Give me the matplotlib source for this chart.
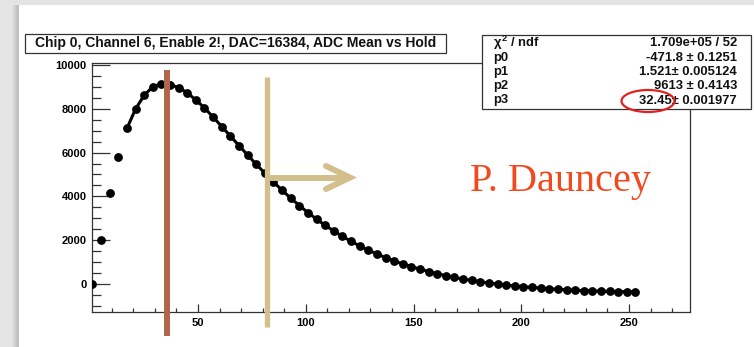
import matplotlib
matplotlib.use('Agg')
import matplotlib.pyplot as plt
from matplotlib.patches import Rectangle, Ellipse
from matplotlib.lines import Line2D
from matplotlib.ticker import MultipleLocator

W, H = 754, 347

# hold delay vs ADC mean
hold = [1, 5, 9, 13, 17, 21, 25, 29, 33, 37, 41, 45, 49, 53, 57, 61,
        65, 69, 73, 77, 81, 85, 89, 93, 97, 101, 105, 109, 113, 117, 121, 125,
        129, 133, 137, 141, 145, 149, 153, 157, 161, 165, 169, 173, 177, 181, 185, 189,
        193, 197, 201, 205, 209, 213, 217, 221, 225, 229, 233, 237, 241, 245, 249, 253]
adc = [0, 2030, 4140, 5820, 7100, 7990, 8610, 9010, 9135, 9095, 8970, 8730, 8400, 8040, 7620, 7190,
       6755, 6320, 5890, 5465, 5060, 4660, 4280, 3920, 3580, 3260, 2960, 2680, 2420, 2175, 1950, 1740,
       1545, 1370, 1205, 1055, 915, 790, 675, 565, 470, 380, 300, 228, 160, 100, 46, -5,
       -50, -90, -125, -160, -190, -218, -243, -265, -285, -303, -318, -330, -340, -348, -354, -358]
fit_start = 4  # fit curve drawn from hold=17 on

title = "Chip 0, Channel 6, Enable 2!, DAC=16384, ADC Mean vs Hold"
stat_names = [r"$\chi^{2}$ / ndf", "p0", "p1", "p2", "p3"]
stat_vals = ["1.709e+05 / 52", "-471.8 \u00b1 0.1251", "1.521\u00b1 0.005124",
             "9613 \u00b1 0.4143", "32.45\u00b1 0.001977"]

plt.rcParams['font.family'] = ['Liberation Sans', 'DejaVu Sans']
plt.rcParams['mathtext.fontset'] = 'custom'
plt.rcParams['mathtext.it'] = 'Liberation Sans:bold'
plt.rcParams['mathtext.rm'] = 'Liberation Sans:bold'


def fx(px):
    return px / W


def fy(py):
    return 1 - py / H


fig = plt.figure(figsize=(W / 100, H / 100), dpi=100)
fig.patch.set_facecolor('#e4e4e4')

# white slide area with soft shadow on the left
for i, c in enumerate(['#d6d6d6', '#cccccc', '#c4c4c4', '#bcbcbc']):
    fig.add_artist(Rectangle((fx(13 + i * 1.5), 0), fx(8), fy(5), transform=fig.transFigure,
                             facecolor=c, edgecolor='none', zorder=0))
fig.add_artist(Rectangle((fx(19), 0), 1, fy(5), transform=fig.transFigure,
                         facecolor='white', edgecolor='none', zorder=0))

ax = fig.add_axes([fx(92), fy(312), fx(690) - fx(92), fy(63) - fy(312)])
ax.set_facecolor('white')
ax.plot(hold[fit_start:], adc[fit_start:], color='black', lw=2.2, zorder=3)
ax.plot(hold, adc, 'o', color='black', ms=5.3, zorder=4)
ax.set_xlim(0.8, 278.3)
ax.set_ylim(-1280, 10090)

for s in ax.spines.values():
    s.set_color('#333333')
    s.set_linewidth(0.9)

ax.xaxis.set_major_locator(MultipleLocator(50))
ax.xaxis.set_minor_locator(MultipleLocator(10))
ax.yaxis.set_major_locator(MultipleLocator(2000))
ax.yaxis.set_minor_locator(MultipleLocator(500))
ax.tick_params(axis='y', which='major', direction='in', length=13, width=0.9, color='#333333',
               labelsize=8, pad=4)
ax.tick_params(axis='y', which='minor', direction='in', length=6.5, width=0.9, color='#333333')
ax.tick_params(axis='x', which='major', direction='in', length=5.8, width=0.9, color='#333333',
               labelsize=8, pad=4)
ax.tick_params(axis='x', which='minor', direction='in', length=3, width=0.9, color='#333333')
ax.set_xticks([50, 100, 150, 200, 250])
ax.set_yticks([0, 2000, 4000, 6000, 8000, 10000])
for lab in ax.get_xticklabels() + ax.get_yticklabels():
    lab.set_fontweight('bold')

# title box
fig.add_artist(Rectangle((fx(25), fy(53)), fx(446) - fx(25), fy(34) - fy(53), transform=fig.transFigure,
                         facecolor='white', edgecolor='#333333', lw=0.9, zorder=5))
fig.text(fx(235.5), fy(43.5), title, ha='center', va='center', fontsize=10, fontweight='bold',
         color='#111111', zorder=6)

# stats box
fig.add_artist(Rectangle((fx(482), fy(109)), fx(751) - fx(482), fy(35) - fy(109), transform=fig.transFigure,
                         facecolor='white', edgecolor='#333333', lw=0.9, zorder=5))
rows_y = [46.5, 61, 75, 89, 103.5]
for name, val, yy in zip(stat_names, stat_vals, rows_y):
    fig.text(fx(493), fy(yy), name, ha='left', va='baseline', fontsize=9.4, fontweight='bold',
             color='#111111', zorder=6)
    fig.text(fx(737), fy(yy), val, ha='right', va='baseline', fontsize=9.4, fontweight='bold',
             color='#111111', zorder=6)
fig.add_artist(Ellipse((fx(648), fy(101)), fx(53), fy(0) - fy(22), transform=fig.transFigure,
                       facecolor='none', edgecolor='#e02222', lw=1.6, zorder=7))

# annotations: vertical markers and arrow
fig.add_artist(Line2D([fx(167), fx(167)], [fy(70), fy(336)], transform=fig.transFigure,
                      color='#b2654a', lw=4.3, zorder=8, solid_capstyle='butt'))
tan = '#d3bf8c'
fig.add_artist(Line2D([fx(267), fx(267)], [fy(77), fy(327)], transform=fig.transFigure,
                      color=tan, lw=3.8, zorder=8, solid_capstyle='butt'))
fig.add_artist(Line2D([fx(271), fx(349)], [fy(177.5), fy(177.5)], transform=fig.transFigure,
                      color=tan, lw=4.3, zorder=8, solid_capstyle='round'))
fig.add_artist(Line2D([fx(326), fx(350), fx(326)], [fy(166), fy(177.5), fy(189)], transform=fig.transFigure,
                      color=tan, lw=4.3, zorder=8, solid_capstyle='round', solid_joinstyle='miter'))

fig.text(fx(470), fy(191), "P. Dauncey", ha='left', va='baseline', fontsize=29,
         family=['Liberation Serif', 'DejaVu Serif'], color='#f04a1e', zorder=9)

fig.savefig('out.png', dpi=100, facecolor=fig.get_facecolor())
